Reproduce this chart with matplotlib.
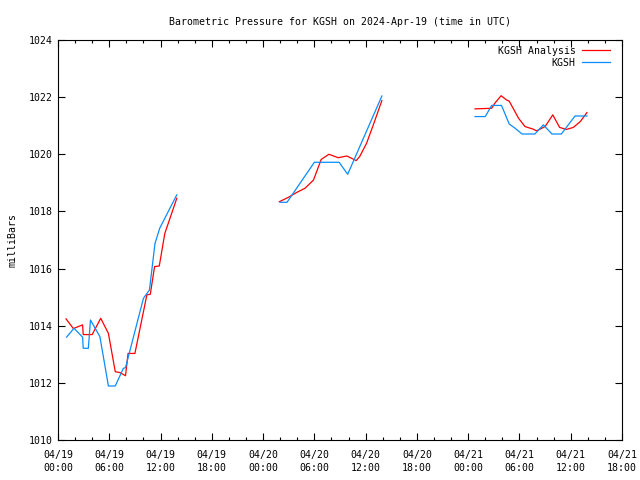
import datetime as dt
import numpy as np
import matplotlib
matplotlib.use("Agg")
import matplotlib.pyplot as plt
import matplotlib.dates as mdates

base = dt.datetime(2024, 4, 19, 0, 0)

# hours since 04/19 00:00 UTC, pressure in mb (nan = gap)
ana_hours = [0.94, 1.8, 2.88, 2.95, 4.0, 5.0, 5.9, 6.7, 7.25, 7.9, 8.2, 9.0,
             10.4, 10.8, 11.3, 11.85, 12.5, 13.9, np.nan,
             25.9, 27.0, 27.9, 28.9, 29.9, 30.8, 31.7, 32.8, 33.8, 34.9, 35.3,
             36.1, 36.9, 37.9, np.nan,
             48.8, 50.75, 51.1, 51.85, 52.5, 52.8, 53.9, 54.65, 55.6, 56.0,
             57.0, 57.9, 58.7, 59.5, 60.3, 61.1, 61.9]
ana_pres = [1014.24, 1013.9, 1014.03, 1013.69, 1013.69, 1014.26, 1013.73,
            1012.39, 1012.36, 1012.25, 1013.03, 1013.03, 1015.08, 1015.1,
            1016.07, 1016.09, 1017.23, 1018.46, np.nan,
            1018.34, 1018.5, 1018.66, 1018.81, 1019.1, 1019.82, 1020.0,
            1019.88, 1019.94, 1019.78, 1019.92, 1020.38, 1021.03, 1021.88, np.nan,
            1021.59, 1021.61, 1021.78, 1022.05, 1021.9, 1021.86, 1021.26,
            1020.97, 1020.88, 1020.82, 1020.97, 1021.38, 1020.94, 1020.87,
            1020.94, 1021.14, 1021.46]

obs_hours = [1.0, 1.87, 2.88, 2.95, 3.55, 3.8, 4.9, 5.9, 6.7, 7.65, 7.9, 10.0,
             10.7, 11.35, 11.9, 13.9, np.nan,
             26.0, 26.8, 30.0, 32.9, 33.9, 37.9, np.nan,
             48.8, 50.0, 50.75, 51.9, 52.8, 53.5, 54.3, 55.8, 56.8, 57.8, 58.9,
             60.5, 61.9]
obs_pres = [1013.6, 1013.91, 1013.6, 1013.21, 1013.21, 1014.2, 1013.62,
            1011.89, 1011.89, 1012.51, 1012.53, 1014.96, 1015.25, 1016.88,
            1017.41, 1018.58, np.nan,
            1018.32, 1018.32, 1019.72, 1019.72, 1019.3, 1022.04, np.nan,
            1021.32, 1021.32, 1021.71, 1021.71, 1021.06, 1020.91, 1020.71,
            1020.71, 1021.03, 1020.71, 1020.71, 1021.34, 1021.34]


def to_num(hours):
    t = mdates.date2num([base + dt.timedelta(hours=h) for h in np.nan_to_num(hours)])
    return np.where(np.isnan(hours), np.nan, t)


plt.rcParams['font.family'] = ['DejaVu Sans Mono']
fs = 7.1

fig = plt.figure(figsize=(6.4, 4.8), dpi=100)
ax = fig.add_axes([58 / 640, 40 / 480, 564 / 640, 400 / 480])

ax.plot(to_num(ana_hours), ana_pres, color="#ff0000", lw=0.9, label="KGSH Analysis")
ax.plot(to_num(obs_hours), obs_pres, color="#0a8cff", lw=0.9, label="KGSH")

ax.set_xlim(mdates.date2num(base), mdates.date2num(base + dt.timedelta(hours=66)))
ax.set_ylim(1010, 1024)
ax.xaxis.set_major_locator(mdates.HourLocator(byhour=[0, 6, 12, 18]))
ax.xaxis.set_minor_locator(mdates.HourLocator(interval=2))
ax.xaxis.set_major_formatter(mdates.DateFormatter("%m/%d\n%H:%M"))
ax.set_yticks(np.arange(1010, 1025, 2))

ax.tick_params(which="both", direction="in", top=True, right=True,
               labelsize=fs, width=0.8)
ax.tick_params(which="major", length=5, pad=4)
ax.tick_params(axis="x", which="major", pad=7)
ax.tick_params(which="minor", length=2.5)
for lab in ax.get_xticklabels():
    lab.set_linespacing(1.45)
for s in ax.spines.values():
    s.set_linewidth(0.8)

ax.set_ylabel("milliBars", fontsize=fs, labelpad=8)
ax.set_title("Barometric Pressure for KGSH on 2024-Apr-19 (time in UTC)",
             fontsize=fs, pad=11)
ax.legend(loc="upper right", bbox_to_anchor=(1 - 6 / 564, 1), frameon=False,
          fontsize=fs, markerfirst=False, handlelength=2.8, borderaxespad=0.2,
          labelspacing=0.2, handletextpad=0.7)

fig.savefig("out.png", dpi=100)
